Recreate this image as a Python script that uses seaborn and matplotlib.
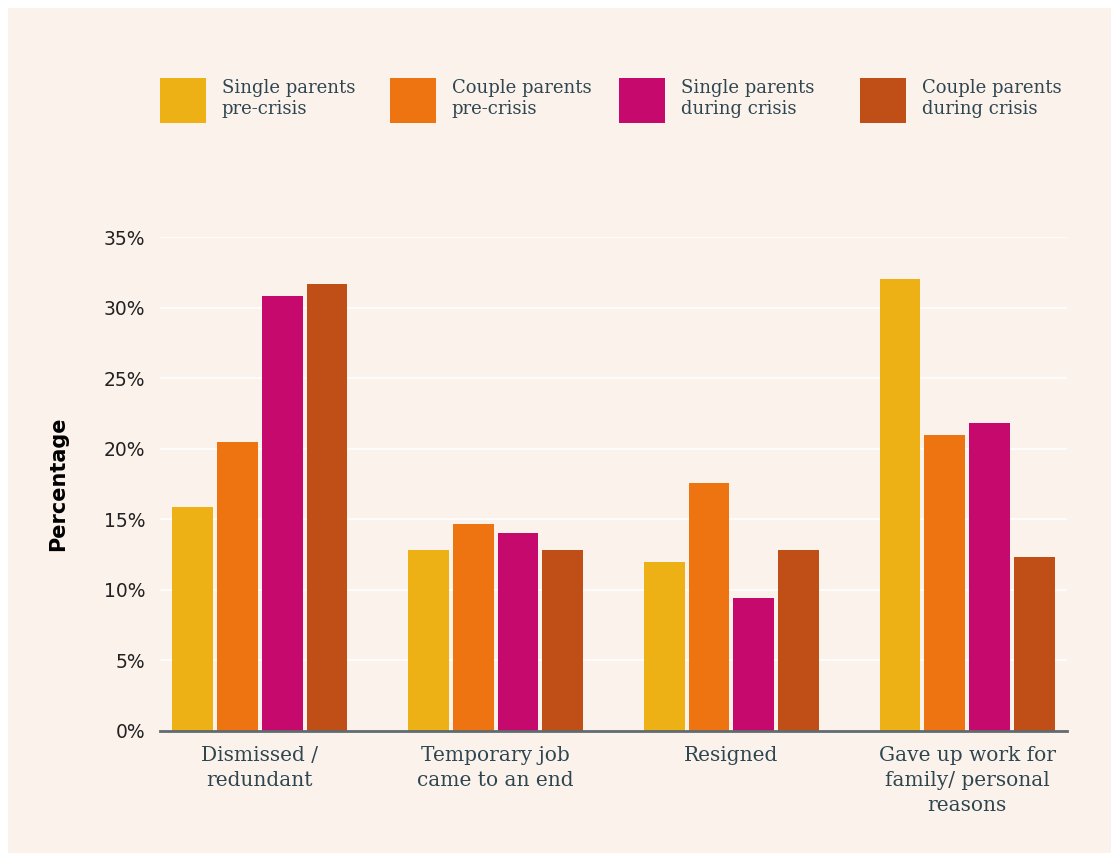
import matplotlib
matplotlib.use("Agg")
import matplotlib.pyplot as plt
from matplotlib.patches import Patch
from matplotlib.ticker import FuncFormatter
import pandas as pd
import seaborn as sns

# Data
CATEGORIES = [
    "Dismissed /\nredundant",
    "Temporary job\ncame to an end",
    "Resigned",
    "Gave up work for\nfamily/ personal\nreasons",
]
SERIES = [
    "Single parents\npre-crisis",
    "Couple parents\npre-crisis",
    "Single parents\nduring crisis",
    "Couple parents\nduring crisis",
]
single_pre = [15.9, 12.8, 12.0, 32.0]
couple_pre = [20.5, 14.7, 17.6, 21.0]
single_during = [30.8, 14.0, 9.4, 21.8]
couple_during = [31.7, 12.8, 12.8, 12.3]

COLORS = ["#EDB115", "#EE7411", "#C5096D", "#C04F17"]
BG = "#FBF2EC"
TEXT = "#2F4650"

rows = []
for s, vals in zip(SERIES, [single_pre, couple_pre, single_during, couple_during]):
    for c, v in zip(CATEGORIES, vals):
        rows.append({"category": c, "series": s, "value": v})
df = pd.DataFrame(rows)

sns.set_theme(style="white")
plt.rcParams["font.family"] = ["DejaVu Sans"]

fig = plt.figure(figsize=(11.19, 8.61), dpi=100, facecolor="white")
# inner panel background with a thin white border
fig.patches.append(plt.Rectangle((8 / 1119, 8 / 861), 1 - 16 / 1119, 1 - 16 / 861,
                                 transform=fig.transFigure, facecolor=BG,
                                 edgecolor="none", zorder=-10))
ax = fig.add_axes([160 / 1119, 1 - 731 / 861, (1067 - 160) / 1119, (731 - 237) / 861])
ax.set_facecolor(BG)

sns.barplot(data=df, x="category", y="value", hue="series",
            order=CATEGORIES, hue_order=SERIES, palette=COLORS,
            width=0.76, gap=0.09, saturation=1, linewidth=0,
            legend=False, ax=ax, zorder=3)

ax.set_xlim(-0.424, 3.424)
ax.set_ylim(0, 35)
ax.set_yticks(range(0, 36, 5))
ax.yaxis.set_major_formatter(FuncFormatter(lambda v, _: f"{int(v)}%"))
ax.grid(axis="y", color="white", linewidth=1.2, zorder=0)
ax.set_axisbelow(True)

for side in ["top", "right", "left"]:
    ax.spines[side].set_visible(False)
ax.spines["bottom"].set_color("#5F6B6F")
ax.spines["bottom"].set_linewidth(2)
ax.spines["bottom"].set_zorder(4)

ax.tick_params(axis="y", length=0, pad=10.5, labelsize=13.5, labelcolor="#222222")
ax.tick_params(axis="x", length=0, pad=11)
for lab in ax.get_xticklabels():
    lab.set_family("DejaVu Serif")
    lab.set_fontsize(14.5)
    lab.set_color(TEXT)
    lab.set_linespacing(1.4)

ax.set_xlabel("")
ax.set_ylabel("Percentage", fontsize=15, fontweight="bold", color="black", labelpad=26)

# legend: one entry per column, placed like the reference
legend_x = [160, 390, 619, 860]
for c, s, x in zip(COLORS, SERIES, legend_x):
    leg = fig.legend([Patch(facecolor=c, edgecolor="none")], [s], loc="upper left",
                     bbox_to_anchor=((x - 16) / 1119, 1 - 62 / 861), frameon=False,
                     handlelength=2.55, handleheight=3.45, handletextpad=0.85,
                     prop={"family": "DejaVu Serif", "size": 13})
    for t in leg.get_texts():
        t.set_color(TEXT)

fig.savefig("out.png", dpi=100, facecolor="white")
